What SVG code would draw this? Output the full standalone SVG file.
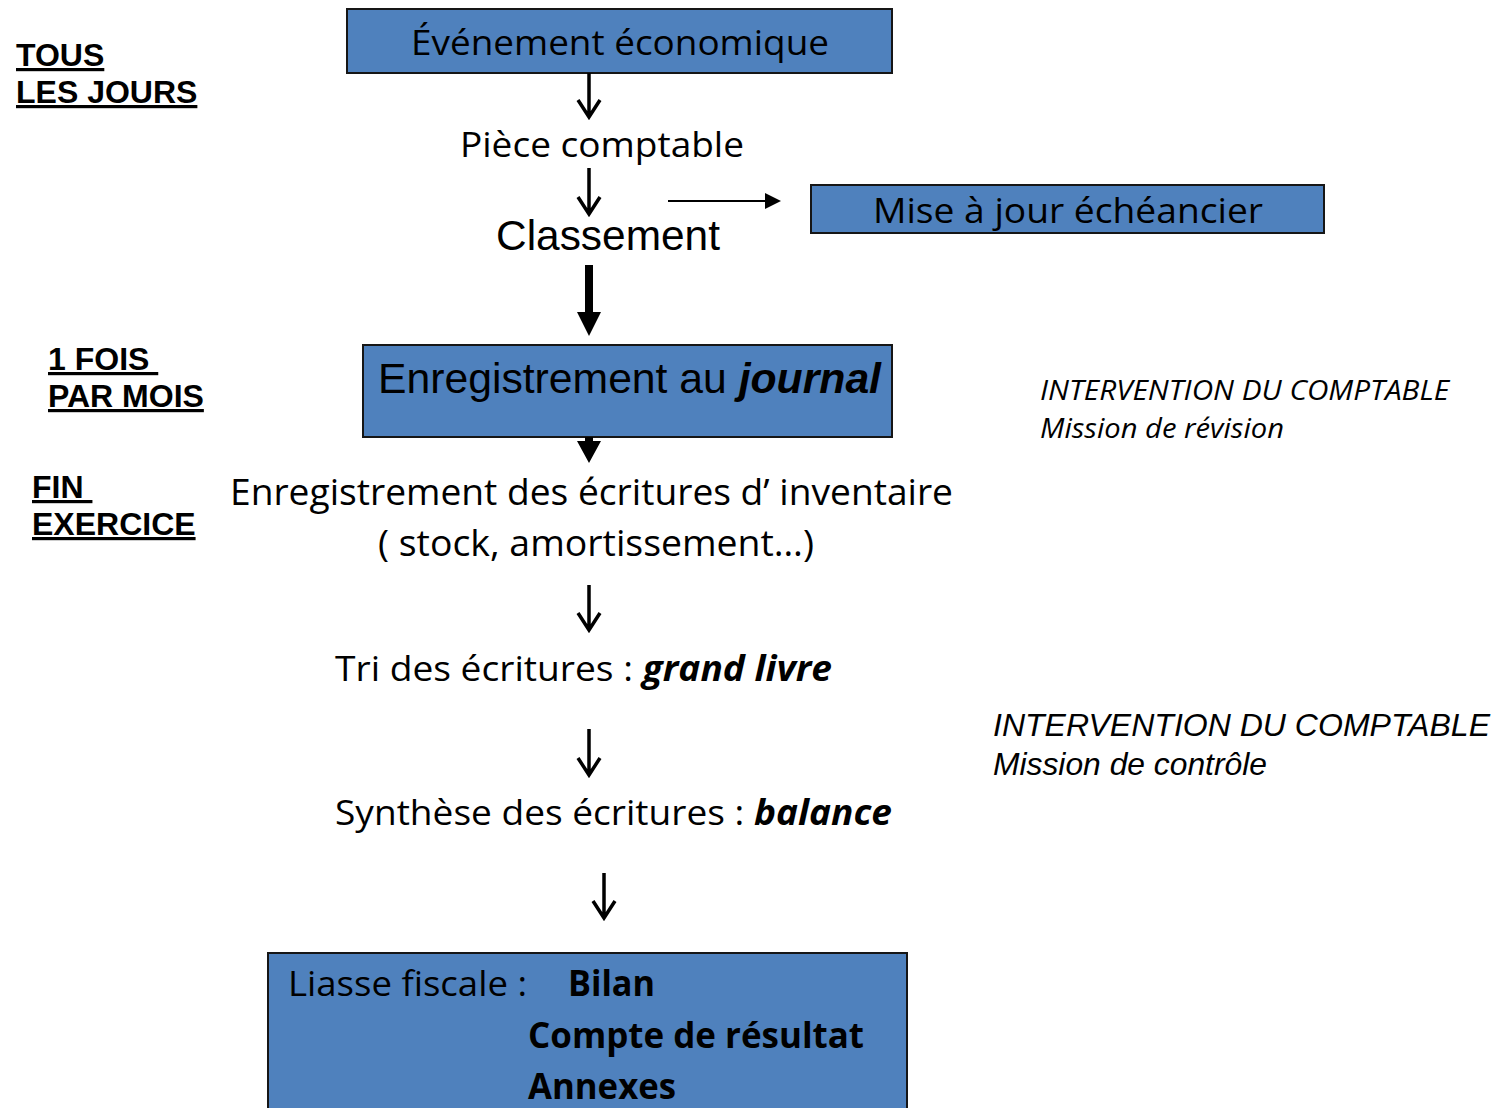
<svg xmlns="http://www.w3.org/2000/svg" width="1503" height="1108" viewBox="0 0 1503 1108">
<style>
.box{fill:#4f81bd;stroke:#161616;stroke-width:2}
.cal{font-family:"Open Sans","Noto Sans","Liberation Sans",sans-serif;fill:#000}
.ari{font-family:"Liberation Sans",Arial,sans-serif;fill:#000}
.lbl{font-family:"Liberation Sans",Arial,sans-serif;font-weight:bold;font-size:32px;text-decoration:underline;fill:#000;white-space:pre}
.thin{stroke:#000;stroke-width:3.5;fill:none}
.bi{font-weight:bold;font-style:italic}
</style>
<defs>
<marker id="tri" markerWidth="8" markerHeight="8" refX="7" refY="4" orient="auto" markerUnits="strokeWidth">
<path d="M0,0 L8,4 L0,8 z" fill="#000"/>
</marker>
</defs>

<g id="labels-left">
<text class="lbl" x="16" y="66" xml:space="preserve">TOUS</text>
<text class="lbl" x="16" y="103" xml:space="preserve">LES JOURS</text>
<text class="lbl" x="48" y="370" xml:space="preserve">1 FOIS </text>
<text class="lbl" x="48" y="407" xml:space="preserve">PAR MOIS</text>
<text class="lbl" x="32" y="498" xml:space="preserve">FIN </text>
<text class="lbl" x="32" y="535" xml:space="preserve">EXERCICE</text>
</g>

<g id="n-evenement">
<rect class="box" x="347" y="9" width="545" height="64"/>
<text class="cal" x="411" y="55" font-size="35" textLength="418" lengthAdjust="spacingAndGlyphs">Événement économique</text>
</g>

<g id="n-piece">
<text class="cal" x="460" y="157" font-size="35" textLength="284" lengthAdjust="spacingAndGlyphs">Pièce comptable</text>
</g>

<g id="n-classement">
<text class="ari" x="496" y="250" font-size="42" textLength="224" lengthAdjust="spacingAndGlyphs">Classement</text>
</g>

<g id="n-echeancier">
<rect class="box" x="811" y="185" width="513" height="48"/>
<text class="cal" x="873" y="223" font-size="35" textLength="390" lengthAdjust="spacingAndGlyphs">Mise à jour échéancier</text>
</g>

<g id="n-journal">
<rect class="box" x="363" y="345" width="529" height="92"/>
<text class="ari" x="378" y="393" font-size="43" textLength="503" lengthAdjust="spacingAndGlyphs">Enregistrement au <tspan class="bi">journal</tspan></text>
</g>

<g id="n-inventaire">
<text class="cal" x="230" y="505" font-size="36" textLength="723" lengthAdjust="spacingAndGlyphs">Enregistrement des écritures d’ inventaire</text>
<text class="cal" x="378" y="556" font-size="36" textLength="436" lengthAdjust="spacingAndGlyphs">( stock, amortissement…)</text>
</g>

<g id="n-grandlivre">
<text class="cal" x="335" y="681" font-size="35" textLength="497" lengthAdjust="spacingAndGlyphs">Tri des écritures : <tspan class="bi">grand livre</tspan></text>
</g>

<g id="n-balance">
<text class="cal" x="335" y="825" font-size="35" textLength="557" lengthAdjust="spacingAndGlyphs">Synthèse des écritures : <tspan class="bi">balance</tspan></text>
</g>

<g id="n-liasse">
<rect class="box" x="268" y="953" width="639" height="170"/>
<text class="cal" x="288" y="996" font-size="35" textLength="239" lengthAdjust="spacingAndGlyphs">Liasse fiscale :</text>
<text class="cal" x="568" y="996" font-size="35" font-weight="bold" textLength="87" lengthAdjust="spacingAndGlyphs">Bilan</text>
<text class="cal" x="528" y="1048" font-size="35" font-weight="bold" textLength="336" lengthAdjust="spacingAndGlyphs">Compte de résultat</text>
<text class="cal" x="528" y="1099" font-size="35" font-weight="bold" textLength="148" lengthAdjust="spacingAndGlyphs">Annexes</text>
</g>

<g id="n-revision">
<text class="cal" x="1040" y="400" font-size="27" font-style="italic" textLength="409" lengthAdjust="spacingAndGlyphs">INTERVENTION DU COMPTABLE</text>
<text class="cal" x="1040" y="438" font-size="27" font-style="italic" textLength="244" lengthAdjust="spacingAndGlyphs">Mission de révision</text>
</g>

<g id="n-controle">
<text class="ari" x="993" y="736" font-size="31.5" font-style="italic" textLength="497" lengthAdjust="spacingAndGlyphs">INTERVENTION DU COMPTABLE</text>
<text class="ari" x="993" y="775" font-size="31.5" font-style="italic" textLength="274" lengthAdjust="spacingAndGlyphs">Mission de contrôle</text>
</g>

<g id="connectors">
<path class="thin" d="M589,73 V117 M578,100 L589,117 L600,100"/>
<path class="thin" d="M589,168 V214 M578,197 L589,214 L600,197"/>
<line x1="668" y1="201" x2="779" y2="201" stroke="#000" stroke-width="2" marker-end="url(#tri)"/>
<path d="M585,265 H593 V312 H601 L589,336 L577,312 H585 Z" fill="#000"/>
<path d="M585,437 H593 V441 H601 L589,463 L577,441 H585 Z" fill="#000"/>
<path class="thin" d="M589,585 V630 M578,613 L589,630 L600,613"/>
<path class="thin" d="M589,729 V775 M578,758 L589,775 L600,758"/>
<path class="thin" d="M604,873 V918 M593,901 L604,918 L615,901"/>
</g>
</svg>
